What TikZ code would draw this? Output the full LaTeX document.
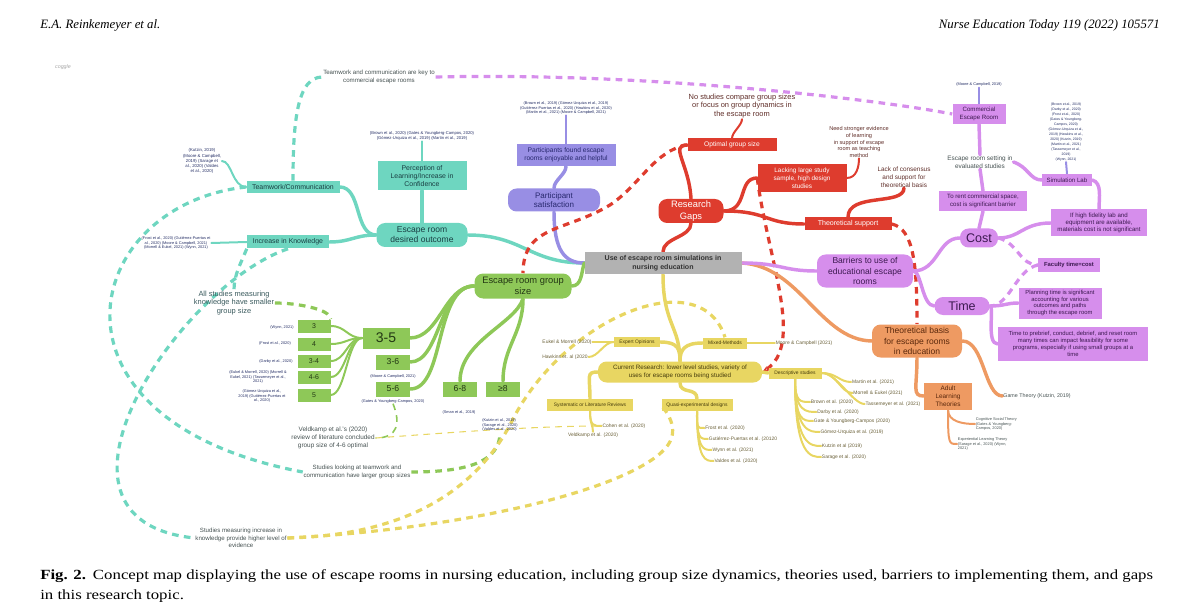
\documentclass[tikz,border=0pt]{standalone}
\usepackage{fontspec}
\setmainfont{Liberation Sans}
\newfontfamily\jrnfont[FakeStretch=1.2]{Liberation Serif}
\newfontfamily\hdfont{Liberation Serif}
\usetikzlibrary{arrows.meta,backgrounds}

\definecolor{tealc}{RGB}{110,214,192}
\definecolor{grnc}{RGB}{142,200,88}
\definecolor{yelc}{RGB}{232,214,98}
\definecolor{redc}{RGB}{222,60,46}
\definecolor{orgc}{RGB}{238,154,98}
\definecolor{orchc}{RGB}{214,142,236}
\definecolor{lavc}{RGB}{152,142,228}
\definecolor{grayc}{RGB}{178,178,178}
\definecolor{tealtxt}{RGB}{25,62,66}
\definecolor{reftxt}{RGB}{35,45,100}
\definecolor{grntxt}{RGB}{35,55,20}
\definecolor{lavtxt}{RGB}{40,40,110}
\definecolor{orchtxt}{RGB}{60,25,80}
\definecolor{orgtxt}{RGB}{90,40,12}
\definecolor{yeltxt}{RGB}{70,60,12}
\definecolor{yreftxt}{RGB}{105,95,55}
\definecolor{redtxt}{RGB}{95,45,40}
\definecolor{notetxt}{RGB}{70,82,82}

\newcommand\fz[2]{\fontsize{#1}{#2}\selectfont}

\tikzset{
  box/.style={rectangle, inner sep=0.6pt, align=center},
  wh/.style 2 args={minimum width=#1*0.75pt, minimum height=#2*0.75pt},
  pill/.style={rounded corners=6.5pt},
  tbox/.style={box, fill=tealc, text=tealtxt},
  gbox/.style={box, fill=grnc, text=grntxt},
  ybox/.style={box, fill=yelc, text=yeltxt, font=\fz{3.7}{4.4}},
  rbox/.style={box, fill=redc, text=white},
  obox/.style={box, fill=orgc, text=orgtxt},
  pbox/.style={box, fill=orchc, text=orchtxt},
  lbox/.style={box, fill=lavc, text=lavtxt},
  reftext/.style={align=center, inner sep=0.5pt, text=reftxt, font=\fz{2.9}{3.5}},
  yref/.style={inner sep=0.5pt, text=yreftxt, font=\fz{3.7}{4.4}},
  note/.style={align=center, inner sep=0.5pt, text=notetxt},
  lnk/.style={line width=2.6pt, line cap=round},
  twig/.style={line width=1.5pt, line cap=round},
  dsh/.style={line width=2.4pt, dash pattern=on 5pt off 4pt},
}

\begin{document}
\begin{tikzpicture}[x=0.75pt,y=-0.75pt]
\useasboundingbox (0,0) rectangle (1200,613);

% page header and caption
\node[font=\hdfont\itshape\fz{9.6}{12}, anchor=west, inner sep=0] (hdl) at (40,25) {E.A. Reinkemeyer et al.};
\node[font=\hdfont\itshape\fz{9.6}{12}, anchor=east, inner sep=0] (hdr) at (1160,25) {Nurse Education Today 119 (2022) 105571};
\node[font=\itshape\fz{4}{5}, text=gray!70, inner sep=0] (coggle) at (63,67) {coggle};
\node[font=\jrnfont\fz{10.5}{15}, anchor=north west, align=left, inner sep=0] (cap) at (40,569)
  {\textbf{Fig. 2.}\hspace{0.5em}Concept map displaying the use of escape rooms in nursing education, including group size dynamics, theories used, barriers to implementing them, and gaps\\in this research topic.};

% centre
\node[box, fill=grayc, wh={157}{22}, font=\bfseries\fz{5.3}{6.4}, text=black!80] (center) at (663,263) {Use of escape room simulations in\\nursing education};

% teal: desired outcome
\node[tbox, pill, wh={91}{24}, font=\fz{6.4}{7.6}] (desired) at (422,235) {Escape room\\desired outcome};
\node[tbox, wh={89}{29}, font=\fz{5.2}{6.2}] (percep) at (422,176) {Perception of\\Learning/Increase in\\Confidence};
\node[reftext, font=\fz{3.1}{3.7}] (percepref) at (422,136) {(Brown et al., 2020) (Gates \& Youngberg-Campos, 2020)\\(Gómez-Urquiza et al., 2019) (Martin et al., 2019)};
\node[tbox, wh={93}{12}, font=\fz{5.2}{6.2}] (team) at (293,187) {Teamwork/Communication};
\node[reftext, font=\fz{3.2}{3.8}] (teamref) at (202,161) {(Kutzin, 2019)\\(Moore \& Campbell,\\2019) (Sarage et\\al., 2020) (Valdes\\et al., 2020)};
\node[tbox, wh={82}{13}, font=\fz{5.2}{6.2}] (know) at (288,242) {Increase in Knowledge};
\node[reftext] (knowref) at (176,243) {(Frost et al., 2020) (Gutiérrez-Puertas et\\al., 2020) (Moore \& Campbell, 2021)\\(Morrell \& Eukel, 2021) (Wynn, 2021)};
\node[note, font=\fz{4.6}{5.5}] (keytxt) at (379,77) {Teamwork and communication are key to\\commercial escape rooms};
\node[note, text=tealtxt!85, font=\fz{5.6}{6.6}] (allstud) at (234,303) {All studies measuring\\knowledge have smaller\\group size};

% lavender: satisfaction
\node[lbox, pill, wh={92}{23}, font=\fz{6}{7.2}] (satis) at (554,200) {Participant\\satisfaction};
\node[lbox, wh={99}{22}, font=\fz{5}{6}] (enjoy) at (566,155) {Participants found escape\\rooms enjoyable and helpful};
\node[reftext] (enjref) at (566,108) {(Brown et al., 2019) (Gómez-Urquiza et al., 2019)\\(Gutiérrez-Puertas et al., 2020) (Hawkins et al., 2020)\\(Martin et al., 2021) (Moore \& Campbell, 2021)};

% green: group size
\node[gbox, pill, wh={97}{25}, font=\fz{7}{8.4}] (gsize) at (523,286) {Escape room group\\size};
\node[gbox, wh={47}{21}, font=\fz{10.5}{12}] (g35) at (386,338) {3-5};
\node[gbox, wh={34}{15}, font=\fz{6.5}{7.5}] (g36) at (393,362) {3-6};
\node[reftext] (g36ref) at (393,376) {(Moore \& Campbell, 2021)};
\node[gbox, wh={34}{15}, font=\fz{6.5}{7.5}] (g56) at (393,389) {5-6};
\node[reftext] (g56ref) at (393,401) {(Gates \& Youngberg-Campos, 2020)};
\node[gbox, wh={34}{15}, font=\fz{6.5}{7.5}] (g68) at (460,389) {6-8};
\node[reftext] (g68ref) at (459,412) {(Sman et al., 2019)};
\node[gbox, wh={34}{15}, font=\fz{6.5}{7.5}] (g8) at (503,389) {≥8};
\node[reftext, align=left] (g8ref) at (500,425) {(Kutzin et al., 2019)\\(Sarage et al., 2020)\\(Valdes et al., 2020)};
\node[gbox, wh={33}{13}, font=\fz{5.2}{6}] (g3) at (314,326) {3};
\node[reftext] (g3ref) at (282,327) {(Wynn, 2021)};
\node[gbox, wh={33}{13}, font=\fz{5.2}{6}] (g4) at (314,344) {4};
\node[reftext] (g4ref) at (275,343) {(Frost et al., 2020)};
\node[gbox, wh={33}{13}, font=\fz{5.2}{6}] (g34) at (314,361) {3-4};
\node[reftext] (g34ref) at (276,361) {(Darby et al., 2020)};
\node[gbox, wh={33}{13}, font=\fz{5.2}{6}] (g46) at (314,377) {4-6};
\node[reftext] (g46ref) at (258,377) {(Eukel \& Morrell, 2020) (Morrell \&\\Eukel, 2021) (Tassemeyer et al.,\\2021)};
\node[gbox, wh={33}{13}, font=\fz{5.2}{6}] (g5) at (314,395) {5};
\node[reftext] (g5ref) at (262,396) {(Gómez-Urquiza et al.,\\2019) (Gutiérrez-Puertas et\\al., 2020)};
\node[note, text=notetxt, font=\fz{4.8}{5.8}] (veld) at (333,438) {Veldkamp et al.'s (2020)\\review of literature concluded\\group size of 4-6 optimal};
\node[note, font=\fz{4.6}{5.5}] (larger) at (357,472) {Studies looking at teamwork and\\communication have larger group sizes};
\node[note, font=\fz{4.6}{5.5}] (higher) at (241,538) {Studies measuring increase in\\knowledge provide higher level of\\evidence};

% red: research gaps
\node[rbox, pill, wh={65}{24}, font=\fz{7}{8.4}] (gaps) at (691,211) {Research\\Gaps};
\node[rbox, wh={89}{13}, font=\fz{5}{6}] (optimal) at (732,145) {Optimal group size};
\node[note, text=redtxt, font=\fz{5.6}{6.6}] (nostud) at (742,106) {No studies compare group sizes\\or focus on group dynamics in\\the escape room};
\node[rbox, wh={89}{28}, font=\fz{4.8}{5.8}] (lacking) at (802,178) {Lacking large study\\sample, high design\\studies};
\node[note, text=redtxt, font=\fz{4.2}{5}] (stronger) at (859,142) {Need stronger evidence\\of learning\\in support of escape\\room as teaching\\method};
\node[rbox, wh={87}{13}, font=\fz{5.3}{6.3}] (theosup) at (848,224) {Theoretical support};
\node[note, text=redtxt, font=\fz{4.8}{5.8}] (consensus) at (904,177) {Lack of consensus\\and support for\\theoretical basis};

% orange: theory
\node[obox, pill, wh={90}{33}, font=\fz{6.4}{7.6}] (theobasis) at (917,341) {Theoretical basis\\for escape rooms\\in education};
\node[obox, wh={48}{27}, font=\fz{4.8}{5.8}] (adult) at (948,396) {Adult\\Learning\\Theories};
\node[note, font=\fz{4}{4.8}] (game) at (1037,396) {Game Theory (Kutzin, 2019)};
\node[reftext, text=notetxt, align=left, anchor=west] (cogn) at (975,424) {Cognitive Social Theory\\(Gates \& Youngberg-\\Campos, 2020)};
\node[reftext, text=notetxt, align=left, anchor=west] (exper) at (957,444) {Experiential Learning Theory\\(Sarage et al., 2020) (Wynn,\\2021)};

% orchid: barriers
\node[pbox, pill, wh={96}{33}, font=\fz{6.4}{7.6}] (barriers) at (865,271) {Barriers to use of\\educational escape\\rooms};
\node[pbox, pill, wh={38}{19}, font=\fz{9.4}{11}] (cost) at (979,238) {Cost};
\node[pbox, pill, wh={55}{18}, font=\fz{9.4}{11}] (time) at (962,306) {Time};
\node[pbox, wh={88}{20}, font=\fz{4.6}{5.5}] (rent) at (983,201) {To rent commercial space,\\cost is significant barrier};
\node[note, font=\fz{4.8}{5.8}] (setting) at (980,162) {Escape room setting in\\evaluated studies};
\node[pbox, wh={53}{20}, font=\fz{4.6}{5.5}] (commercial) at (979,114) {Commercial\\Escape Room};
\node[reftext] (comref) at (979,85) {(Moore \& Campbell, 2019)};
\node[pbox, wh={50}{12}, font=\fz{4.6}{5.5}] (simlab) at (1067,180) {Simulation Lab};
\node[reftext, font=\fz{2.6}{3.75}] (simref) at (1066,132) {(Brown et al., 2019)\\(Darby et al., 2020)\\(Frost et al., 2020)\\(Gates \& Youngberg-\\Campos, 2020)\\(Gómez-Urquiza et al.,\\2019) (Hawkins et al.,\\2020) (Kutzin, 2019)\\(Martin et al., 2021)\\(Tassemeyer et al.,\\2019)\\(Wynn, 2021)};
\node[pbox, wh={96}{27}, font=\fz{4.6}{5.5}] (hifi) at (1099,223) {If high fidelity lab and\\equipment are available,\\materials cost is not significant};
\node[pbox, wh={62}{13}, font=\bfseries\fz{4.4}{5.3}] (faculty) at (1069,265) {Faculty time=cost};
\node[pbox, wh={83}{31}, font=\fz{4.4}{5.2}] (planning) at (1060,303) {Planning time is significant\\accounting for various\\outcomes and paths\\through the escape room};
\node[pbox, wh={150}{34}, font=\fz{4.4}{5.2}] (prebrief) at (1073,344) {Time to prebrief, conduct, debrief, and reset room\\many times can impact feasibility for some\\programs, especially if using small groups at a\\time};

% yellow: current research
\node[ybox, pill, wh={164}{21}, font=\fz{4.7}{5.6}] (current) at (680,372) {Current Research: lower level studies, variety of\\uses for escape rooms being studied};
\node[ybox, wh={46}{10}] (expert) at (637,342) {Expert Opinions};
\node[yref] (eukref) at (567,342) {Eukel \& Morrell (2020)};
\node[yref] (hawkref) at (565,357) {Hawkins et. al (2020};
\node[ybox, wh={44}{11}] (mixed) at (725,343) {Mixed-Methods};
\node[yref] (mooreref) at (804,343) {Moore \& Campbell (2021)};
\node[ybox, wh={53}{11}] (descr) at (795,373) {Descriptive studies};
\node[yref] (martin) at (873,382) {Martin et al. (2021)};
\node[yref] (morrell) at (878,393) {Morrell \& Eukel (2021)};
\node[yref] (tass) at (893,404) {Tassemeyer et al. (2021)};
\node[yref] (brown) at (832,402) {Brown et al. (2020)};
\node[yref] (darby) at (838,412) {Darby et al. (2020)};
\node[yref] (gates) at (852,421) {Gate \& Youngberg-Campos (2020)};
\node[yref] (gomez) at (852,432) {Gómez-Urquiza et al. (2019)};
\node[yref] (kutzin) at (842,446) {Kutzin et al (2019)};
\node[yref] (sarage) at (844,457) {Sarage et al. (2020)};
\node[ybox, wh={86}{12}] (syst) at (590,405) {Systematic or Literature Reviews};
\node[yref] (cohen) at (624,426) {Cohen et al. (2020)};
\node[yref] (veldref) at (593,435) {Veldkamp et al. (2020)};
\node[ybox, wh={71}{12}] (quasi) at (697,405) {Quasi-experimental designs};
\node[yref] (frost) at (725,428) {Frost et al. (2020)};
\node[yref] (gutz) at (743,439) {Gutiérrez-Puertas et al. (20120};
\node[yref] (wynn) at (733,450) {Wynn et al. (2021)};
\node[yref] (valdes) at (736,461) {Valdes et al. (2020)};

\begin{pgfonlayer}{background}
% teal links
\draw[lnk, tealc] (desired.east) .. controls +(55,0) and +(-55,0) .. (center.west);
\draw[lnk, tealc] (desired.west) .. controls +(-22,0) and +(22,0) .. (team.east);
\draw[lnk, tealc] (desired.west) .. controls +(-22,0) and +(22,0) .. (know.east);
\draw[lnk, tealc] (desired.north) -- (percep.south);
\draw[twig, tealc] (percep.north) -- (percepref.south);
\draw[twig, tealc] (team.west) .. controls +(-14,0) and +(10,0) .. (teamref.east);
\draw[twig, tealc] (know.west) -- (knowref.east);
\draw[dsh, tealc] (team.north) .. controls +(0,-60) and +(-25,0) .. (keytxt.west);
\draw[dsh, tealc] (team.west) .. controls (80,205) and (30,420) .. (larger.west);
\draw[dsh, tealc] (know.south) .. controls (180,285) and (20,520) .. (higher.west);
\draw[dsh, tealc] (know.south west) .. controls +(-6,15) and +(0,-15) .. (allstud.north);
\draw[dsh, orchc] (keytxt.east) .. controls (650,72) and (880,100) .. (commercial.west);
% lavender links
\draw[twig, lavc] (enjref.south) -- (enjoy.north);
\draw[lnk, lavc] (enjoy.south) .. controls +(0,8) and +(0,-8) .. (satis.north);
\draw[lnk, lavc] (satis.south) .. controls +(0,38) and +(-20,0) .. (center.west);
% red links
\draw[lnk, redc] (center.north) .. controls +(0,-14) and +(0,14) .. (gaps.south);
\draw[lnk, redc] (gaps.north) .. controls +(-2,-35) and +(-18,0) .. (optimal.west);
\draw[twig, redc] (optimal.north) .. controls +(0,-6) and +(0,6) .. (nostud.south);
\draw[lnk, redc] (gaps.east) .. controls +(25,0) and +(-20,0) .. (lacking.west);
\draw[lnk, redc] (gaps.east) .. controls +(45,0) and +(-40,0) .. (theosup.west);
\draw[twig, redc] (lacking.east) .. controls +(10,0) and +(0,8) .. (stronger.south);
\draw[lnk, redc] (theosup.north) .. controls +(0,-25) and +(0,18) .. (consensus.south);
\draw[dsh, redc] (optimal.west) .. controls (655,150) and (640,185) .. (610,205) .. controls (565,232) and (523,225) .. (gsize.north);
\draw[dsh, redc, -{Stealth[length=5pt]}] (lacking.west) .. controls (768,260) and (805,345) .. (current.east);
\draw[dsh, redc] (theosup.east) .. controls +(22,5) and +(0,-60) .. (theobasis.north);
% orange links
\draw[lnk, orgc] (center.east) .. controls (800,266) and (820,340) .. (theobasis.west);
\draw[lnk, orgc] (theobasis.south) .. controls +(0,30) and +(-12,0) .. (adult.west);
\draw[lnk, orgc] (theobasis.east) .. controls +(22,0) and +(-18,0) .. (game.west);
\draw[twig, orgc] (adult.south) .. controls +(0,12) and +(-12,0) .. (cogn.west);
\draw[twig, orgc] (adult.south) .. controls +(0,35) and +(-8,0) .. (exper.west);
% orchid links
\draw[lnk, orchc] (center.east) .. controls +(40,0) and +(-35,0) .. (barriers.west);
\draw[lnk, orchc] (barriers.east) .. controls +(25,0) and +(-22,0) .. (cost.west);
\draw[lnk, orchc] (barriers.east) .. controls +(8,0) and +(-12,0) .. (time.west);
\draw[lnk, orchc] (cost.north) -- (rent.south);
\draw[lnk, orchc] (rent.north) -- (setting.south);
\draw[lnk, orchc] (setting.north) -- (commercial.south);
\draw[twig, lavc] (commercial.north) -- (comref.south);
\draw[lnk, orchc] (setting.east) .. controls +(15,5) and +(-12,0) .. (simlab.west);
\draw[twig, lavc] (simlab.north) -- (simref.south);
\draw[lnk, orchc] (simlab.east) .. controls +(10,3) and +(0,-12) .. (hifi.north);
\draw[lnk, orchc] (hifi.west) .. controls +(-28,0) and +(22,0) .. (cost.east);
\draw[dsh, orchc] (cost.east) .. controls +(20,5) and +(-18,0) .. (faculty.west);
\draw[dsh, orchc] (faculty.west) .. controls +(-22,5) and +(20,0) .. (time.east);
\draw[lnk, orchc] (time.east) .. controls +(15,0) and +(-12,0) .. (planning.west);
\draw[lnk, orchc] (time.east) .. controls +(5,0) and +(-12,0) .. (prebrief.west);
% green links
\draw[lnk, grnc] (center.west) .. controls +(-3,10) and +(10,0) .. (gsize.east);
\draw[lnk, grnc] (gsize.west) .. controls +(-30,0) and +(30,0) .. (g35.east);
\draw[lnk, grnc] (gsize.west) .. controls +(-35,0) and +(30,0) .. (g36.east);
\draw[lnk, grnc] (gsize.west) .. controls +(-40,0) and +(35,0) .. (g56.east);
\draw[lnk, grnc] (gsize.south) .. controls +(-8,25) and +(0,-40) .. (g68.north);
\draw[lnk, grnc] (gsize.south) .. controls +(0,35) and +(0,-35) .. (g8.north);
\foreach \bx in {g3,g4,g34,g46,g5}
  \draw[twig, grnc] (\bx.east) .. controls +(15,0) and +(-15,0) .. (g35.west);
\draw[dsh, grnc] (allstud.east) .. controls +(22,0) and +(0,-10) .. (g3.north east);
\draw[dsh, grnc, line width=1.2pt] (g56ref.south) .. controls +(8,20) and +(22,0) .. (veld.east);
\draw[dsh, yelc, line width=0.8pt] (veld.east) .. controls +(70,-5) and +(-70,0) .. (cohen.west);
\draw[dsh, grnc] (larger.east) .. controls +(55,0) and +(0,30) .. (g8ref.south);
% yellow links
\draw[lnk, yelc] (center.south) .. controls +(0,50) and +(0,-35) .. (current.north);
\draw[lnk, yelc] (expert.east) .. controls +(18,0) and +(0,-12) .. (current.north);
\draw[lnk, yelc] (mixed.west) .. controls +(-18,0) and +(0,-12) .. (current.north);
\draw[twig, yelc] (mixed.east) -- (mooreref.west);
\draw[twig, yelc] (expert.west) -- (eukref.east);
\draw[twig, yelc] (expert.west) .. controls +(-10,0) and +(10,0) .. (hawkref.east);
\draw[lnk, yelc] (current.east) -- (descr.west);
\foreach \rf in {martin,morrell,tass}
  \draw[twig, yelc] (descr.east) .. controls +(15,0) and +(-12,0) .. (\rf.west);
\foreach \rf in {brown,darby,gates,gomez,kutzin,sarage}
  \draw[twig, yelc] (descr.south) .. controls (descr.south |- \rf.west) and +(-10,0) .. (\rf.west);
\draw[lnk, yelc] (syst.north) .. controls +(0,-22) and +(-12,0) .. (current.west);
\draw[lnk, yelc] (quasi.north) .. controls +(0,-12) and +(0,12) .. (current.south);
\foreach \rf in {frost,gutz,wynn,valdes}
  \draw[twig, yelc] (quasi.south) .. controls (quasi.south |- \rf.west) and +(-8,0) .. (\rf.west);
\draw[twig, yelc] (syst.south) .. controls (syst.south |- cohen.west) and +(-8,0) .. (cohen.west);
\draw[twig, yelc] (syst.south) .. controls +(0,12) and +(0,-6) .. (veldref.north);
\draw[dsh, yelc] (higher.east) .. controls (420,535) and (480,480) .. (510,425) .. controls (560,320) and (700,260) .. (mixed.north);
\draw[dsh, yelc] (higher.east) .. controls (480,528) and (640,485) .. (668,445) .. controls (682,425) and (660,405) .. (quasi.west);
\end{pgfonlayer}
\end{tikzpicture}
\end{document}
